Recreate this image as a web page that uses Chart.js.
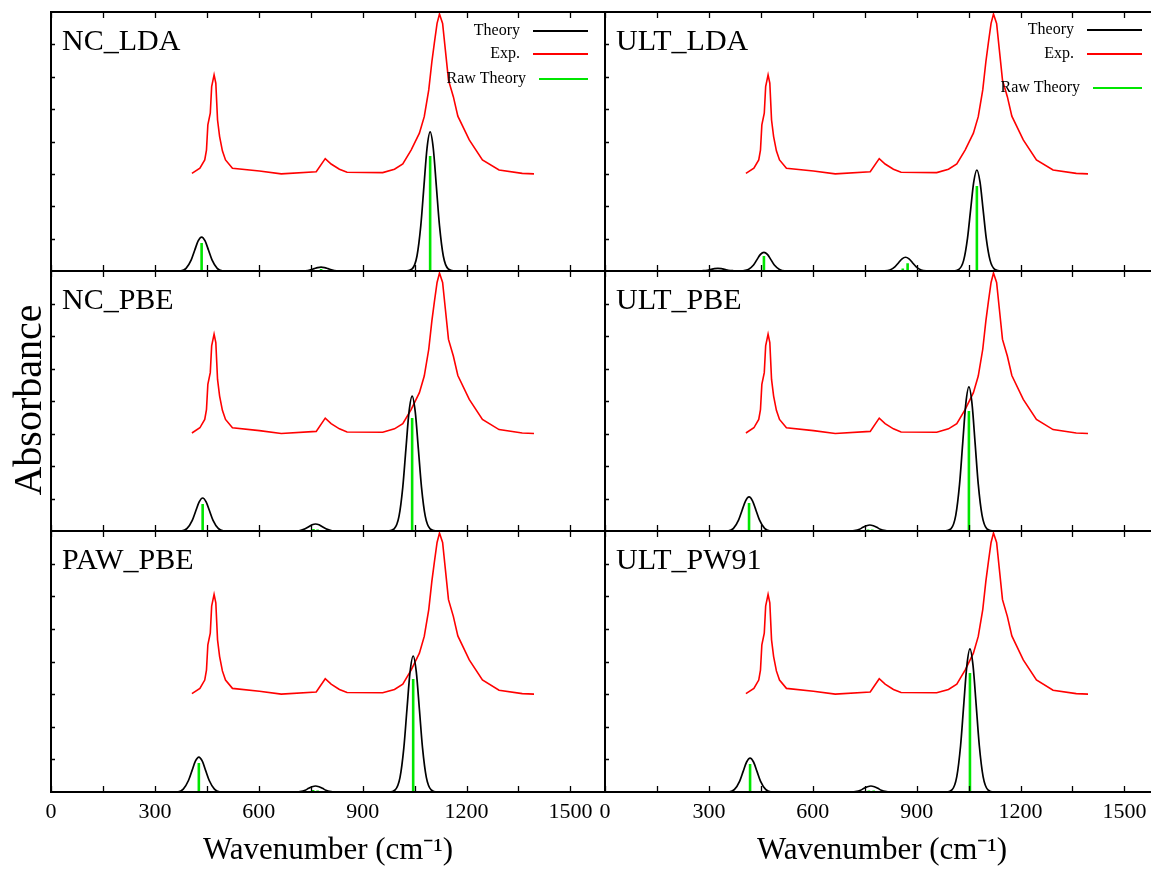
<!DOCTYPE html>
<html>
<head>
<meta charset="utf-8">
<script src="https://cdn.jsdelivr.net/npm/chart.js@4.4.1/dist/chart.umd.min.js"></script>
<style>
  html, body { margin: 0; padding: 0; background: #fff; overflow: hidden; }
  #wrap { position: relative; width: 1151px; height: 869px; overflow: hidden; }
  canvas { position: absolute; }
</style>
</head>
<body>
<div id="wrap"></div>
<script>
// x axis ticks (cm-1)
const xTicks = [0, 300, 600, 900, 1200, 1500];
const xTickMarks = [0, 150, 300, 450, 600, 750, 900, 1050, 1200, 1350, 1500];
const yTickMarks = [0.125, 0.25, 0.375, 0.5, 0.625, 0.75, 0.875];

// experimental spectrum (same in every panel)
const expX = [407, 430, 444, 449, 453, 460, 464, 471, 476, 481, 487, 495, 504, 524, 602, 665, 766, 792, 809, 833,
  855, 958, 992, 1016, 1040, 1064, 1078, 1091, 1100, 1107, 1115, 1122, 1131, 1139, 1148, 1162, 1175, 1208, 1246, 1294,
  1361, 1395];
const expY = [0.377, 0.397, 0.429, 0.467, 0.564, 0.609, 0.712, 0.757, 0.725, 0.583, 0.519, 0.464, 0.429, 0.397, 0.386, 0.375, 0.383, 0.434, 0.413, 0.393,
  0.381, 0.380, 0.393, 0.413, 0.467, 0.532, 0.596, 0.699, 0.808, 0.879, 0.956, 0.992, 0.956, 0.853, 0.737, 0.673, 0.598, 0.506, 0.429, 0.390,
  0.377, 0.375];

// broadened theory curves [x, y]
const ncLdaTheory = [[0, 0],
  [375, 0.001], [390, 0.010], [405, 0.043], [415, 0.080], [425, 0.116], [435, 0.131], [445, 0.116], [455, 0.080], [465, 0.043], [480, 0.010], [495, 0.001],
  [720, 0], [735, 0.001], [750, 0.005], [760, 0.009], [770, 0.013], [780, 0.015], [790, 0.013], [800, 0.009], [810, 0.005], [825, 0.001], [840, 0],
  [1025, 0], [1043, 0.008], [1057, 0.058], [1068, 0.175], [1077, 0.326], [1086, 0.474], [1095, 0.537], [1104, 0.474], [1113, 0.326], [1122, 0.175], [1133, 0.058], [1147, 0.008], [1165, 0],
  [1600, 0]];
const ultLdaTheory = [[0, 0],
  [266, 0], [281, 0.001], [296, 0.003], [306, 0.006], [316, 0.009], [326, 0.010], [336, 0.009], [346, 0.006], [356, 0.003], [371, 0.001], [386, 0],
  [399, 0.001], [414, 0.006], [429, 0.023], [439, 0.044], [449, 0.064], [459, 0.072], [469, 0.064], [479, 0.044], [489, 0.023], [504, 0.006], [519, 0.001],
  [808, 0.001], [823, 0.004], [838, 0.017], [848, 0.032], [858, 0.047], [868, 0.053], [878, 0.047], [888, 0.032], [898, 0.017], [913, 0.004], [928, 0.001],
  [1005, 0], [1022, 0.006], [1036, 0.042], [1047, 0.127], [1056, 0.237], [1065, 0.344], [1074, 0.390], [1083, 0.344], [1092, 0.237], [1101, 0.127], [1112, 0.042], [1126, 0.006], [1145, 0],
  [1600, 0]];
const ncPbeTheory = [[0, 0],
  [378, 0.001], [393, 0.010], [408, 0.041], [418, 0.077], [428, 0.112], [438, 0.127], [448, 0.112], [458, 0.077], [468, 0.041], [483, 0.010], [498, 0.001],
  [704, 0], [719, 0.002], [734, 0.009], [744, 0.016], [754, 0.024], [764, 0.027], [774, 0.024], [784, 0.016], [794, 0.009], [809, 0.002], [824, 0],
  [973, 0], [991, 0.008], [1005, 0.056], [1016, 0.169], [1025, 0.315], [1034, 0.458], [1043, 0.519], [1052, 0.458], [1061, 0.315], [1070, 0.169], [1081, 0.056], [1095, 0.008], [1113, 0],
  [1600, 0]];
const ultPbeTheory = [[0, 0],
  [356, 0.001], [371, 0.010], [386, 0.043], [396, 0.080], [406, 0.116], [416, 0.131], [426, 0.116], [436, 0.080], [446, 0.043], [461, 0.010], [476, 0.001],
  [705, 0], [720, 0.002], [735, 0.007], [745, 0.014], [755, 0.020], [765, 0.023], [775, 0.020], [785, 0.014], [795, 0.007], [810, 0.002], [825, 0],
  [981, 0], [999, 0.008], [1013, 0.060], [1024, 0.180], [1033, 0.336], [1042, 0.489], [1051, 0.554], [1060, 0.489], [1069, 0.336], [1078, 0.180], [1089, 0.060], [1103, 0.008], [1121, 0],
  [1600, 0]];
const pawPbeTheory = [[0, 0],
  [367, 0.001], [382, 0.011], [397, 0.044], [407, 0.081], [417, 0.118], [427, 0.134], [437, 0.118], [447, 0.081], [457, 0.044], [472, 0.011], [487, 0.001],
  [704, 0], [719, 0.002], [734, 0.007], [744, 0.014], [754, 0.020], [764, 0.023], [774, 0.020], [784, 0.014], [794, 0.007], [809, 0.002], [824, 0],
  [976, 0], [994, 0.008], [1008, 0.056], [1019, 0.169], [1028, 0.316], [1037, 0.460], [1046, 0.521], [1055, 0.460], [1064, 0.316], [1073, 0.169], [1084, 0.056], [1098, 0.008], [1116, 0],
  [1600, 0]];
const ultPw91Theory = [[0, 0],
  [359, 0.001], [374, 0.010], [389, 0.042], [399, 0.079], [409, 0.115], [419, 0.130], [429, 0.115], [439, 0.079], [449, 0.042], [464, 0.010], [479, 0.001],
  [708, 0], [723, 0.002], [738, 0.007], [748, 0.014], [758, 0.020], [768, 0.023], [778, 0.020], [788, 0.014], [798, 0.007], [813, 0.002], [828, 0],
  [984, 0], [1002, 0.008], [1016, 0.059], [1027, 0.178], [1036, 0.333], [1045, 0.483], [1054, 0.548], [1063, 0.483], [1072, 0.333], [1081, 0.178], [1092, 0.059], [1106, 0.008], [1124, 0],
  [1600, 0]];

// raw theory sticks [x, intensity]
const ncLdaRaw = [[435, 0.108], [780, 0.008], [1095, 0.444]];
const ultLdaRaw = [[326, 0.004], [459, 0.058], [860, 0.010], [874, 0.030], [1074, 0.328]];
const ncPbeRaw = [[438, 0.104], [758, 0.008], [770, 0.006], [1043, 0.435]];
const ultPbeRaw = [[416, 0.108], [760, 0.006], [772, 0.006], [1051, 0.462]];
const pawPbeRaw = [[427, 0.111], [757, 0.008], [770, 0.006], [1046, 0.433]];
const ultPw91Raw = [[419, 0.107], [762, 0.006], [776, 0.006], [1054, 0.456]];

const panelNames = ['NC_LDA', 'ULT_LDA', 'NC_PBE', 'ULT_PBE', 'PAW_PBE', 'ULT_PW91'];
const theoryData = [ncLdaTheory, ultLdaTheory, ncPbeTheory, ultPbeTheory, pawPbeTheory, ultPw91Theory];
const rawData = [ncLdaRaw, ultLdaRaw, ncPbeRaw, ultPbeRaw, pawPbeRaw, ultPw91Raw];

const serif = '"Liberation Serif", "Times New Roman", serif';

// canvas placement so the plot areas line up
const colGeom = [{ left: 0, width: 640, padL: 51, padR: 35 }, { left: 560, width: 620, padL: 45, padR: 21 }];
const rowGeom = [{ top: 0, height: 280, padT: 12, padB: 9 }, { top: 262, height: 280, padT: 9, padB: 11 }, { top: 522, height: 347, padT: 9, padB: 0 }];
const legendRows = [[19, 42, 67], [18, 42, 76]];

const framePlugin = {
  id: 'frame',
  afterDatasetsDraw(chart) {
    const { ctx, chartArea: a, scales } = chart;
    ctx.save();
    ctx.strokeStyle = '#000';
    ctx.lineWidth = 2;
    ctx.strokeRect(a.left, a.top, a.right - a.left, a.bottom - a.top);
    ctx.lineWidth = 1.3;
    ctx.beginPath();
    xTickMarks.forEach(v => {
      const px = Math.round(scales.x.getPixelForValue(v)) + 0.5;
      ctx.moveTo(px, a.bottom); ctx.lineTo(px, a.bottom - 6);
      ctx.moveTo(px, a.top); ctx.lineTo(px, a.top + 6);
    });
    yTickMarks.forEach(v => {
      const py = Math.round(scales.y.getPixelForValue(v)) + 0.5;
      ctx.moveTo(a.left, py); ctx.lineTo(a.left + 4, py);
    });
    ctx.stroke();

    const o = chart.options.plugins.frame;
    ctx.fillStyle = '#000';
    ctx.font = '30px ' + serif;
    ctx.textAlign = 'left';
    ctx.textBaseline = 'alphabetic';
    ctx.fillText(o.name, a.left + 11, a.top + 38);

    if (o.legend) {
      ctx.font = '16px ' + serif;
      ctx.textAlign = 'right';
      ctx.textBaseline = 'middle';
      chart.data.datasets.forEach((ds, i) => {
        const y = a.top + o.legend[i];
        const x1 = a.right - 72 + (i === 2 ? 6 : 0), x2 = a.right - 17;
        ctx.fillText(ds.label, x1 - 13, y);
        ctx.strokeStyle = ds.borderColor;
        ctx.lineWidth = 2;
        ctx.beginPath(); ctx.moveTo(x1, y); ctx.lineTo(x2, y); ctx.stroke();
      });
    }
    if (o.yTitle) {
      ctx.save();
      ctx.translate(o.yTitle.x, o.yTitle.y);
      ctx.rotate(-Math.PI / 2);
      ctx.font = '40px ' + serif;
      ctx.textAlign = 'center';
      ctx.textBaseline = 'middle';
      ctx.fillText('Absorbance', 0, 0);
      ctx.restore();
    }
    ctx.restore();
  }
};

const wrap = document.getElementById('wrap');
panelNames.forEach((name, i) => {
  const col = i % 2, row = Math.floor(i / 2);
  const cg = colGeom[col], rg = rowGeom[row];
  const cv = document.createElement('canvas');
  cv.width = cg.width; cv.height = rg.height;
  cv.style.left = cg.left + 'px'; cv.style.top = rg.top + 'px';
  cv.style.width = cg.width + 'px'; cv.style.height = rg.height + 'px';
  wrap.appendChild(cv);

  const sticks = [];
  rawData[i].forEach(([x, h]) => { sticks.push({ x: x, y: 0 }, { x: x, y: h }, { x: x, y: null }); });
  const bottomRow = row === 2;

  new Chart(cv.getContext('2d'), {
    type: 'line',
    data: {
      datasets: [
        {
          label: 'Theory',
          data: theoryData[i].map(([x, y]) => ({ x, y })),
          borderColor: '#000',
          borderWidth: 1.7,
          pointRadius: 0,
          cubicInterpolationMode: 'monotone'
        },
        {
          label: 'Exp.',
          data: expX.map((x, k) => ({ x, y: expY[k] })),
          borderColor: '#ff0000',
          borderWidth: 1.6,
          pointRadius: 0,
          tension: 0
        },
        {
          label: 'Raw Theory',
          data: sticks,
          borderColor: '#00e600',
          borderWidth: 2.6,
          pointRadius: 0,
          spanGaps: false
        }
      ]
    },
    options: {
      responsive: false,
      animation: false,
      devicePixelRatio: 1,
      layout: { padding: { left: cg.padL, right: cg.padR, top: rg.padT, bottom: rg.padB } },
      plugins: {
        legend: { display: false },
        tooltip: { enabled: false },
        frame: {
          name: name,
          legend: row === 0 ? legendRows[col] : null,
          yTitle: (row === 1 && col === 0) ? { x: 30, y: 138 } : null
        }
      },
      scales: {
        x: {
          type: 'linear',
          min: 0,
          max: 1600,
          display: bottomRow,
          afterBuildTicks: s => { s.ticks = xTicks.map(v => ({ value: v })); },
          afterFit: s => { s.height = bottomRow ? 77 : 0; },
          grid: { display: false, drawTicks: false },
          border: { display: false },
          ticks: { color: '#000', font: { family: serif, size: 22 }, padding: 7, maxRotation: 0, autoSkip: false, callback: v => String(v) },
          title: { display: true, text: 'Wavenumber (cm⁻¹)', color: '#000', font: { family: serif, size: 31 }, padding: 0 }
        },
        y: { min: 0, max: 1, display: false }
      }
    },
    plugins: [framePlugin]
  });
});
</script>
</body>
</html>
